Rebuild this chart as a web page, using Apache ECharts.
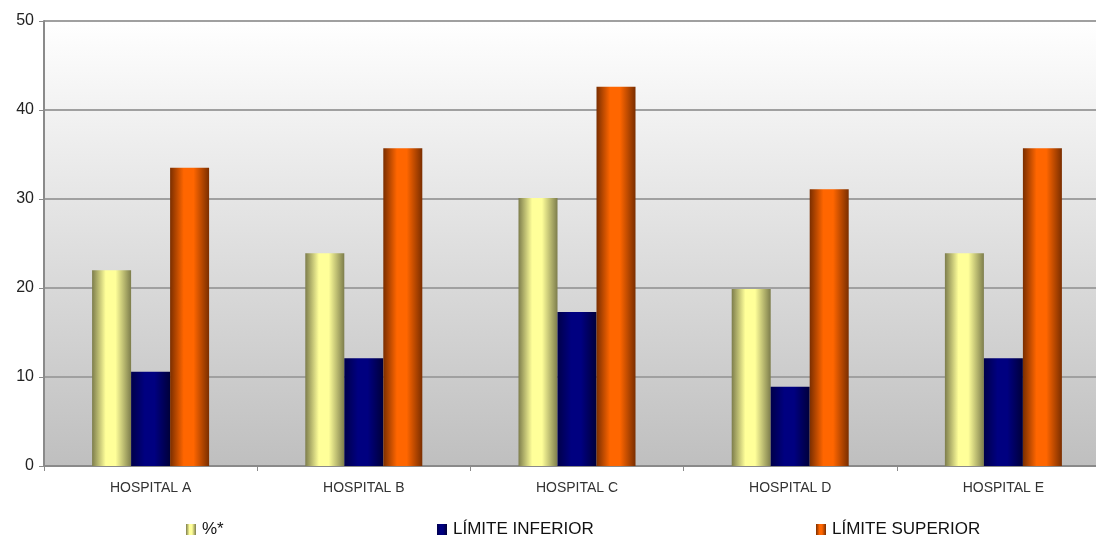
<!DOCTYPE html>
<html>
<head>
<meta charset="utf-8">
<script src="https://cdn.jsdelivr.net/npm/echarts@6/dist/echarts.min.js"></script>
<style>
  html, body { margin: 0; padding: 0; background: #fff; }
  #chart { width: 1096px; height: 536px; }
</style>
</head>
<body>
<div id="chart"></div>
<script>
// Hospital percentages with lower and upper confidence limits
const categories = ['HOSPITAL A', 'HOSPITAL B', 'HOSPITAL C', 'HOSPITAL D', 'HOSPITAL E'];
const seriesNames = ['%*', 'LÍMITE INFERIOR', 'LÍMITE SUPERIOR'];
const pct = [22.0, 23.9, 30.1, 19.9, 23.9];
const limInf = [10.6, 12.1, 17.3, 8.9, 12.1];
const limSup = [33.5, 35.7, 42.6, 31.1, 35.7];
const yTicks = { min: 0, max: 50, interval: 10 };

// Horizontal shading that gives each bar a cylinder look
function cylinder(edgeL, mid, edgeR) {
  return new echarts.graphic.LinearGradient(0, 0, 1, 0, [
    { offset: 0, color: edgeL },
    { offset: 0.35, color: mid },
    { offset: 0.6, color: mid },
    { offset: 1, color: edgeR }
  ]);
}

const colors = [
  cylinder('#7d7d4c', '#ffff99', '#7d7d4c'),
  cylinder('#00004a', '#000080', '#00003a'),
  cylinder('#7a2e00', '#ff6600', '#7a2e00')
];

const chart = echarts.init(document.getElementById('chart'));
const fontFamily = 'Liberation Sans, Arial, sans-serif';

// One legend per series so each entry sits in its own column
const legendLefts = [186, 437, 816];
const legends = seriesNames.map((name, i) => ({
  left: legendLefts[i], top: 521,
  padding: 0,
  icon: 'rect',
  itemWidth: 10, itemHeight: 11,
  textStyle: { fontSize: 17, color: '#111', fontFamily, padding: [0, 0, 0, 1] },
  data: [name]
}));

chart.setOption({
  animation: false,
  textStyle: { fontFamily },
  grid: {
    // plot runs a little past the right edge of the canvas
    left: 44, top: 21, width: 1066, bottom: 70,
    outerBoundsMode: 'none',
    containLabel: false,
    show: true,
    borderWidth: 0,
    backgroundColor: new echarts.graphic.LinearGradient(0, 0, 0, 1, [
      { offset: 0, color: '#ffffff' },
      { offset: 1, color: '#bfbfbf' }
    ])
  },
  legend: legends,
  xAxis: {
    type: 'category',
    data: categories,
    axisLine: { lineStyle: { color: '#8a8a8a', width: 2 } },
    axisTick: { show: true, length: 5, lineStyle: { color: '#8a8a8a', width: 1 } },
    axisLabel: { fontSize: 14, color: '#333', margin: 15, fontFamily }
  },
  yAxis: {
    type: 'value',
    min: yTicks.min, max: yTicks.max, interval: yTicks.interval,
    axisLine: { show: true, lineStyle: { color: '#8a8a8a', width: 2 } },
    axisTick: { show: true, length: 5, lineStyle: { color: '#8a8a8a', width: 1 } },
    splitLine: { show: true, lineStyle: { color: '#a0a0a0', width: 2 } },
    axisLabel: { fontSize: 16, color: '#222', margin: 10, fontFamily }
  },
  series: [
    { name: seriesNames[0], type: 'bar', data: pct, barWidth: 39, barGap: '0%', itemStyle: { color: colors[0] } },
    { name: seriesNames[1], type: 'bar', data: limInf, barWidth: 39, barGap: '0%', itemStyle: { color: colors[1] } },
    { name: seriesNames[2], type: 'bar', data: limSup, barWidth: 39, barGap: '0%', itemStyle: { color: colors[2] } }
  ]
});
</script>
</body>
</html>
